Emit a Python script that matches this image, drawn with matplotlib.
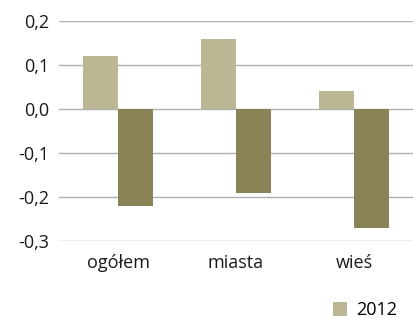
import matplotlib.pyplot as plt
import numpy as np

# -- Data -- #
categories = ['ogółem', 'miasta', 'wieś']
values_2012 = [0.12, 0.16, 0.04]
values_other = [-0.22, -0.19, -0.27]
yticks = [-0.3, -0.2, -0.1, 0.0, 0.1, 0.2]

LIGHT = '#bbb794'
DARK = '#8a8358'

plt.rcParams['font.family'] = ['Open Sans', 'DejaVu Sans']

fig = plt.figure(figsize=(4.13, 3.18), dpi=100)
ax = fig.add_axes([59 / 413, 1 - 241 / 318, 354 / 413, 220 / 318])

x = np.arange(len(categories))
width = 0.295
bars = ax.bar(x - width / 2, values_2012, width, color=LIGHT, label='2012', zorder=2)
ax.bar(x + width / 2, values_other, width, color=DARK, zorder=2)

ax.set_xlim(-0.5, len(categories) - 0.5)
ax.set_ylim(-0.3, 0.2)
ax.set_yticks(yticks)
ax.set_yticklabels([f'{v:.1f}'.replace('.', ',') for v in yticks], fontsize=13, color='#1a1a1a')
ax.set_xticks(x)
ax.set_xticklabels(categories, fontsize=13, color='#1a1a1a')
ax.tick_params(axis='y', length=0, pad=7)
ax.tick_params(axis='x', length=0, pad=9)
ax.grid(axis='y', color='#b0b0b0', linewidth=1.0, zorder=0)
for s in ax.spines.values():
    s.set_visible(False)

fig.legend(handles=[bars], labels=['2012'], loc='lower right', bbox_to_anchor=(1.0, -0.055),
           frameon=False, fontsize=13, handlelength=0.75, handleheight=0.75, handletextpad=0.5)

fig.savefig('out.png', dpi=100)
